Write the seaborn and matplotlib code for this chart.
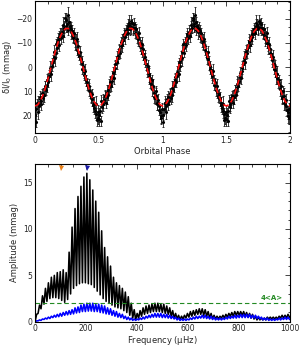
import numpy as np
import pandas as pd
import matplotlib
matplotlib.use("Agg")
import matplotlib.pyplot as plt
import seaborn as sns
from matplotlib.ticker import MultipleLocator, AutoMinorLocator

# light curve, phase bins 0.00 .. 0.99 (folded, drawn twice)
mag_a = [19.5, 17.2, 14.8, 16.1, 12.5, 13.8, 10.9, 11.4, 7.9, 7.5,
         4.2, 3.6, 0.4, -1.8, -2.5, -6.1, -9.5, -8.0, -11.2, -12.5,
         -11.8, -14.6, -17.3, -16.2, -19.5, -17.8, -15.4, -17.0, -14.5, -14.9,
         -12.1, -11.0, -10.6, -7.2, -5.9, -3.8, -3.5, 0.9, 2.2, 3.7,
         5.5, 6.1, 9.3, 10.4, 12.8, 13.2, 14.6, 17.9, 19.4, 20.8,
         21.5, 18.2, 14.1, 15.2, 13.5, 11.9, 12.3, 9.4, 8.1, 6.0,
         5.6, 2.4, 1.5, -1.2, -3.9, -4.4, -7.5, -8.9, -10.8, -11.1,
         -13.6, -14.2, -15.8, -16.9, -17.5, -16.4, -18.1, -15.9, -16.3, -13.8,
         -13.0, -12.2, -10.1, -8.3, -6.0, -5.2, -2.9, -1.1, 1.3, 3.5,
         4.6, 7.0, 9.1, 10.6, 12.9, 11.8, 15.3, 16.2, 18.5, 21.0]
mag_b = [22.4, 14.9, 18.3, 13.2, 15.0, 10.6, 12.8, 8.7, 9.5, 5.4,
         6.3, 1.9, 2.7, -0.5, -4.1, -3.7, -5.9, -10.4, -9.3, -13.5,
         -14.2, -12.9, -15.6, -20.4, -17.1, -21.3, -18.6, -16.1, -15.7, -12.8,
         -13.9, -9.8, -11.5, -8.6, -4.7, -6.2, -1.6, -0.4, 3.1, 1.6,
         7.2, 8.0, 7.6, 11.9, 11.2, 15.4, 16.8, 15.0, 21.7, 18.3,
         19.6, 22.1, 16.5, 14.0, 11.8, 14.6, 10.2, 11.3, 6.9, 7.8,
         3.9, 4.5, 0.2, -2.6, -2.0, -6.3, -5.8, -10.2, -9.1, -12.9,
         -12.4, -15.3, -14.0, -18.2, -15.6, -18.8, -16.0, -17.6, -14.2, -15.5,
         -11.6, -13.9, -8.8, -9.7, -7.4, -3.5, -4.3, 0.6, -0.3, 2.8,
         6.2, 5.1, 7.8, 12.1, 10.0, 14.7, 13.4, 17.8, 20.2, 17.4]
mag_err = [2.4, 1.9, 3.1, 2.2, 2.7, 1.8, 2.5, 3.0, 2.1, 2.6,
           1.7, 2.3, 2.9, 2.0, 2.4, 3.2, 1.9, 2.2, 2.8, 2.5,
           2.1, 2.7, 3.3, 2.0, 2.6, 3.5, 2.2, 1.8, 2.9, 2.4,
           2.0, 2.6, 3.1, 2.3, 1.9, 2.5, 2.8, 2.1, 2.4, 3.0,
           2.2, 1.8, 2.7, 2.5, 2.0, 2.9, 2.3, 3.1, 2.4, 2.6,
           2.8, 2.1, 2.5, 3.0, 1.9, 2.4, 2.7, 2.2, 3.2, 2.0,
           2.5, 2.3, 2.8, 1.8, 2.6, 2.9, 2.1, 2.4, 3.0, 2.2,
           2.7, 2.0, 2.5, 3.1, 2.3, 2.6, 1.9, 2.8, 2.4, 2.1,
           3.0, 2.5, 2.2, 2.7, 1.8, 2.4, 2.9, 2.1, 2.6, 3.3,
           2.3, 2.0, 2.8, 2.5, 2.2, 3.1, 2.4, 1.9, 2.7, 2.6]

# ellipsoidal model, one half-orbit in steps of 0.02 in phase
model_half = [16.0, 15.5, 14.0, 11.7, 8.6, 4.9, 1.0, -3.0, -6.8, -10.2,
              -12.9, -14.9, -15.9, -15.9, -14.9, -12.9, -10.2, -6.8, -3.0, 1.0,
              4.9, 8.6, 11.7, 14.0, 15.5]

# periodogram: alias comb, peaks between troughs (11.6 uHz spacing)
black_peaks = [0.8, 1.8, 2.8, 3.6, 4.2, 4.8, 5.0, 5.3, 5.4, 5.6,
               5.3, 7.5, 10.2, 12.2, 13.5, 14.6, 15.6, 16.0, 15.3, 14.2,
               13.0, 11.8, 9.8, 8.0, 7.0, 6.0, 4.8, 4.2, 3.9, 3.6,
               3.2, 2.7, 2.0, 1.3, 0.9, 1.2, 1.5, 1.7, 1.8, 1.9,
               2.0, 2.0, 1.9, 1.9, 1.7, 1.5, 1.2, 0.9, 0.7, 0.6,
               0.7, 0.9, 1.1, 1.2, 1.3, 1.4, 1.4, 1.3, 1.1, 0.9,
               0.7, 0.6, 0.6, 0.7, 0.8, 0.9, 1.0, 1.1, 1.1, 1.1,
               1.1, 1.0, 0.9, 0.8, 0.6, 0.5, 0.4, 0.4, 0.5, 0.5,
               0.5, 0.5, 0.6, 0.7, 0.7, 0.8]
black_troughs = [0.0, 0.9, 1.4, 1.9, 2.2, 2.5, 2.6, 2.6, 2.5, 2.3,
                 2.1, 2.4, 3.0, 3.6, 3.9, 4.1, 4.2, 4.2, 4.1, 4.0,
                 3.7, 3.3, 2.9, 2.5, 2.2, 2.0, 1.8, 1.6, 1.5, 1.4,
                 1.2, 1.0, 0.7, 0.4, 0.2, 0.4, 0.6, 0.8, 0.9, 1.0,
                 1.1, 1.1, 1.1, 1.0, 0.9, 0.8, 0.6, 0.4, 0.3, 0.2,
                 0.3, 0.4, 0.5, 0.6, 0.7, 0.8, 0.8, 0.7, 0.6, 0.4,
                 0.3, 0.3, 0.3, 0.4, 0.4, 0.5, 0.6, 0.6, 0.7, 0.7,
                 0.7, 0.6, 0.5, 0.4, 0.3, 0.2, 0.2, 0.2, 0.2, 0.3,
                 0.3, 0.3, 0.3, 0.4, 0.4, 0.4, 0.5]
blue_peaks = [0.1, 0.2, 0.3, 0.4, 0.5, 0.6, 0.7, 0.8, 0.9, 1.0,
              1.1, 1.2, 1.3, 1.5, 1.6, 1.8, 1.9, 2.0, 2.0, 2.0,
              1.9, 1.9, 1.8, 1.7, 1.5, 1.4, 1.2, 1.1, 0.9, 0.8,
              0.6, 0.5, 0.4, 0.3, 0.3, 0.4, 0.5, 0.6, 0.7, 0.8,
              0.9, 0.9, 0.9, 0.8, 0.8, 0.7, 0.6, 0.5, 0.4, 0.3,
              0.3, 0.3, 0.4, 0.5, 0.6, 0.6, 0.7, 0.7, 0.6, 0.6,
              0.5, 0.4, 0.4, 0.4, 0.5, 0.6, 0.6, 0.7, 0.7, 0.8,
              0.8, 0.8, 0.8, 0.7, 0.7, 0.6, 0.5, 0.4, 0.4, 0.3,
              0.3, 0.3, 0.4, 0.4, 0.5, 0.5]
blue_troughs = [0.0, 0.1, 0.15, 0.25, 0.3, 0.35, 0.45, 0.5, 0.55, 0.6,
                0.7, 0.75, 0.8, 0.85, 0.95, 1.0, 1.1, 1.1, 1.15, 1.15,
                1.1, 1.1, 1.0, 0.95, 0.85, 0.8, 0.7, 0.6, 0.5, 0.45,
                0.35, 0.25, 0.2, 0.15, 0.15, 0.2, 0.25, 0.3, 0.4, 0.45,
                0.5, 0.5, 0.5, 0.45, 0.45, 0.4, 0.35, 0.3, 0.2, 0.15,
                0.15, 0.15, 0.2, 0.25, 0.3, 0.35, 0.4, 0.4, 0.35, 0.3,
                0.25, 0.2, 0.2, 0.2, 0.25, 0.3, 0.35, 0.4, 0.4, 0.45,
                0.45, 0.45, 0.45, 0.4, 0.4, 0.35, 0.3, 0.2, 0.2, 0.15,
                0.15, 0.15, 0.2, 0.2, 0.25, 0.25, 0.25]
alias_step = 11.6

threshold = 2.0           # 4<A>
marker_freqs = [102, 205]
marker_colors = ['#e8801a', '#1a1aa8']

phase_ticks = [0, 0.5, 1, 1.5, 2]
phase_labels = ['0', '0.5', '1', '1.5', '2']


def comb(peaks, troughs):
    ''' zigzag between trough and peak heights at the alias spacing '''
    tf = np.arange(len(troughs)) * alias_step
    pf = tf[:len(peaks)] + alias_step / 2
    f, a = [], []
    for i in range(len(peaks)):
        f += [tf[i], pf[i]]
        a += [troughs[i], peaks[i]]
    f.append(tf[len(peaks)])
    a.append(troughs[len(peaks)])
    f.append(1000)
    a.append(troughs[-1])
    return pd.DataFrame({'freq': f, 'amp': a})


def style_axes(ax):
    ax.tick_params(which='both', direction='in', top=True, right=True,
                   labelsize=5.5, width=0.6, pad=1.8)
    ax.tick_params(which='major', length=3.5)
    ax.tick_params(which='minor', length=1.8)
    for s in ax.spines.values():
        s.set_linewidth(0.8)
        s.set_color('black')


def plot_light_curve(ax):
    bins = np.arange(len(mag_a)) / len(mag_a)
    df = pd.DataFrame({
        'phase': np.concatenate([bins, bins + 0.005, bins + 1, bins + 1.005]),
        'mag': mag_a + mag_b + mag_a + mag_b,
        'err': mag_err * 4,
    })
    ax.errorbar(df['phase'], df['mag'], yerr=df['err'], fmt='none',
                ecolor='0.1', elinewidth=0.6, capsize=1.0, capthick=0.6)
    sns.scatterplot(data=df, x='phase', y='mag', ax=ax, color='black',
                    s=5, linewidth=0, zorder=3)
    model = pd.DataFrame({
        'phase': np.arange(len(model_half) * 4 + 1) * 0.02,
        'mag': model_half * 4 + [model_half[0]],
    })
    sns.lineplot(data=model, x='phase', y='mag', ax=ax, color='#ff1010',
                 lw=1.2, zorder=4)
    ax.lines[-1].set_dashes([3.5, 2])
    ax.set_xlim(0, 2)
    ax.set_ylim(27.2, -27.2)
    ax.set_xticks(phase_ticks)
    ax.set_xticklabels(phase_labels)
    ax.xaxis.set_minor_locator(MultipleLocator(0.1))
    ax.yaxis.set_major_locator(MultipleLocator(10))
    ax.yaxis.set_minor_locator(AutoMinorLocator(3))
    ax.set_xlabel('Orbital Phase', fontsize=6, labelpad=2)
    ax.set_ylabel(r'$\delta$I/I$_0$ (mmag)', fontsize=6, labelpad=2)
    style_axes(ax)


def plot_periodogram(ax):
    black = comb(black_peaks, black_troughs)
    blue = comb(blue_peaks, blue_troughs)
    sns.lineplot(data=black, x='freq', y='amp', ax=ax, sort=False,
                 estimator=None, color='black', lw=1.15)
    sns.lineplot(data=blue, x='freq', y='amp', ax=ax, sort=False,
                 estimator=None, color='#0000ff', lw=1.15)
    ax.axhline(threshold, color='#238a23', lw=0.8, ls=(0, (4, 2.5)))
    ax.text(970, threshold + 0.25, '4<A>', color='#238a23', fontsize=5,
            ha='right', va='bottom', fontweight='bold')
    for f, c in zip(marker_freqs, marker_colors):
        ax.plot(f, 16.55, marker='v', color=c, ms=3.6, mew=0, clip_on=False)
    ax.set_xlim(0, 1000)
    ax.set_ylim(0, 17)
    ax.xaxis.set_major_locator(MultipleLocator(200))
    ax.xaxis.set_minor_locator(MultipleLocator(50))
    ax.yaxis.set_major_locator(MultipleLocator(5))
    ax.yaxis.set_minor_locator(MultipleLocator(1))
    ax.set_xlabel(r'Frequency ($\mu$Hz)', fontsize=6, labelpad=0.5)
    ax.set_ylabel('Amplitude (mmag)', fontsize=6, labelpad=3)
    style_axes(ax)


def main():
    sns.set_style('white')
    plt.rcParams['font.family'] = ['DejaVu Sans']
    plt.rcParams['mathtext.default'] = 'regular'
    fig = plt.figure(figsize=(3.0, 3.46), dpi=100)
    ax1 = fig.add_axes([0.117, 0.615, 0.85, 0.382])
    ax2 = fig.add_axes([0.117, 0.07, 0.85, 0.456])
    plot_light_curve(ax1)
    plot_periodogram(ax2)
    fig.savefig('out.png', dpi=100)


if __name__ == "__main__":
    main()
